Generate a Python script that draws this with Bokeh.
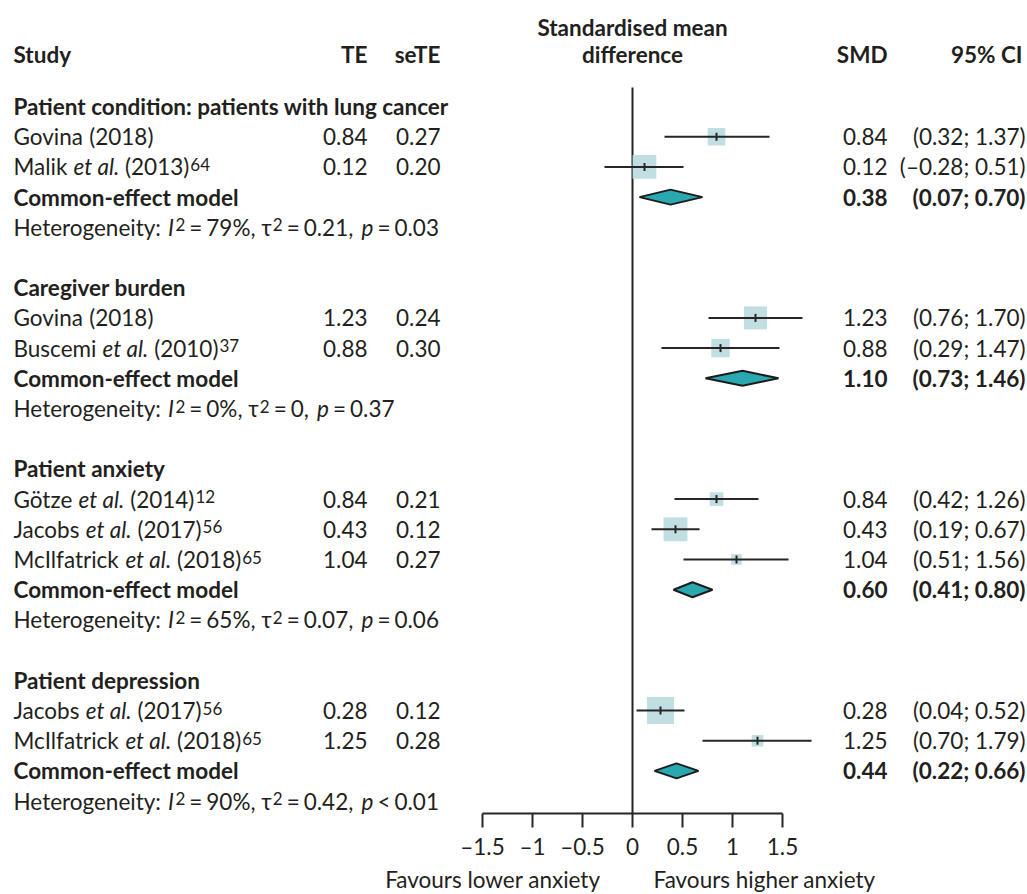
import glob, os, struct, math
from bokeh.plotting import figure
from bokeh.models import ColumnDataSource, Range1d
from bokeh.core.properties import value
from bokeh.embed import file_html
from bokeh.resources import INLINE

# ---------------- data ----------------
group_titles = ["Patient condition: patients with lung cancer", "Caregiver burden",
                "Patient anxiety", "Patient depression"]
group_n = [2, 2, 3, 2]
study_author = ["Govina", "Malik", "Govina", "Buscemi", "Götze", "Jacobs",
                "McIlfatrick", "Jacobs", "McIlfatrick"]
study_etal = [False, True, False, True, True, True, True, True, True]
study_year = ["2018", "2013", "2018", "2010", "2014", "2017", "2018", "2017", "2018"]
study_ref = ["", "64", "", "37", "12", "56", "65", "56", "65"]
te = [0.84, 0.12, 1.23, 0.88, 0.84, 0.43, 1.04, 0.28, 1.25]
se_te = [0.27, 0.20, 0.24, 0.30, 0.21, 0.12, 0.27, 0.12, 0.28]
ci_lo = [0.32, -0.28, 0.76, 0.29, 0.42, 0.19, 0.51, 0.04, 0.70]
ci_hi = [1.37, 0.51, 1.70, 1.47, 1.26, 0.67, 1.56, 0.52, 1.79]
pooled_te = [0.38, 1.10, 0.60, 0.44]
pooled_lo = [0.07, 0.73, 0.41, 0.22]
pooled_hi = [0.70, 1.46, 0.80, 0.66]
het_i2 = ["79%", "0%", "65%", "90%"]
het_tau2 = ["0.21", "0", "0.07", "0.42"]
het_p_op = ["=", "=", "=", "<"]
het_p = ["0.03", "0.37", "0.06", "0.01"]
x_ticks = [-1.5, -1.0, -0.5, 0.0, 0.5, 1.0, 1.5]
label_left = "Favours lower anxiety"
label_right = "Favours higher anxiety"
pooled_label = "Common-effect model"

# ---------------- layout ----------------
W, H = 1027, 894
ZERO_PX = 632.0
PX_PER_UNIT = 100.0
AXIS_PX = 813
ROW0_PX = 106.0
ROW_H = 30.2
FS = 22.5
SUP_FS = 17
SUP_SHIFT = -2.5    # superscript centre offset (px, negative = up)
TEXT = "#231f20"
LINE = "#262626"
SQUARE = "#c1dfe2"
DIAMOND = "#2aa8b0"
FONT = "Lato"

COL_STUDY = 13
COL_TE = 367
COL_SE = 440
COL_SMD = 887
COL_CI = 1025


def xd(px):
    return (px - ZERO_PX) / PX_PER_UNIT


def yr(px):
    return (px - ROW0_PX) / ROW_H


# ---------------- font metrics (for composing mixed-style text) ----------------
def load_ttf(path):
    try:
        data = open(path, "rb").read()
        off0 = struct.unpack(">I", data[12:16])[0] if data[:4] == b"ttcf" else 0
        num = struct.unpack(">H", data[off0 + 4:off0 + 6])[0]
        tabs = {}
        for i in range(num):
            rec = off0 + 12 + 16 * i
            tag = data[rec:rec + 4].decode("latin1")
            tabs[tag] = struct.unpack(">I", data[rec + 8:rec + 12])[0]
        upm = struct.unpack(">H", data[tabs["head"] + 18:tabs["head"] + 20])[0]
        nhm = struct.unpack(">H", data[tabs["hhea"] + 34:tabs["hhea"] + 36])[0]
        hm = tabs["hmtx"]
        adv = [struct.unpack(">H", data[hm + 4 * i:hm + 4 * i + 2])[0] for i in range(nhm)]
        cm = tabs["cmap"]
        nsub = struct.unpack(">H", data[cm + 2:cm + 4])[0]
        cmap = {}
        for i in range(nsub):
            pid, eid, so = struct.unpack(">HHI", data[cm + 4 + 8 * i:cm + 12 + 8 * i])
            sub = cm + so
            fmt = struct.unpack(">H", data[sub:sub + 2])[0]
            if fmt == 4:
                segx2 = struct.unpack(">H", data[sub + 6:sub + 8])[0]
                n = segx2 // 2
                ends = struct.unpack(">%dH" % n, data[sub + 14:sub + 14 + segx2])
                p0 = sub + 16 + segx2
                starts = struct.unpack(">%dH" % n, data[p0:p0 + segx2])
                deltas = struct.unpack(">%dh" % n, data[p0 + segx2:p0 + 2 * segx2])
                ro_pos = p0 + 2 * segx2
                ros = struct.unpack(">%dH" % n, data[ro_pos:ro_pos + segx2])
                for s in range(n):
                    for c in range(starts[s], ends[s] + 1):
                        if c == 0xFFFF or c in cmap:
                            continue
                        if ros[s] == 0:
                            g = (c + deltas[s]) & 0xFFFF
                        else:
                            a = ro_pos + 2 * s + ros[s] + 2 * (c - starts[s])
                            g = struct.unpack(">H", data[a:a + 2])[0]
                            if g:
                                g = (g + deltas[s]) & 0xFFFF
                        if g:
                            cmap[c] = g
        return {"upm": upm, "cmap": cmap, "adv": adv}
    except Exception:
        return None


def find_font(fname):
    for d in ["/usr/share/fonts", "/usr/local/share/fonts",
              os.path.expanduser("~/.fonts"), os.path.expanduser("~/.local/share/fonts")]:
        hits = glob.glob(os.path.join(d, "**", fname), recursive=True)
        if hits:
            return hits[0]
    return None


FONTS = {}
for key, fname in [("normal", "Lato-Regular.ttf"), ("italic", "Lato-Italic.ttf"),
                   ("bold", "Lato-Bold.ttf"), ("fallback", "DejaVuSans.ttf")]:
    path = find_font(fname)
    FONTS[key] = load_ttf(path) if path else None

APPROX = {" ": 0.193, ".": 0.22, ",": 0.22, ":": 0.24, ";": 0.24, "(": 0.31, ")": 0.31,
          "=": 0.58, "<": 0.58, "%": 0.8, "I": 0.28, "i": 0.24, "l": 0.24, "t": 0.35,
          "f": 0.32, "r": 0.36, "m": 0.82, "w": 0.76, "M": 0.9, "–": 0.58}


def char_w(ch, style):
    for f in (FONTS.get(style), FONTS.get("fallback")):
        if f and ord(ch) in f["cmap"]:
            g = f["cmap"][ord(ch)]
            a = f["adv"][g] if g < len(f["adv"]) else f["adv"][-1]
            return a / f["upm"]
    if ch.isdigit():
        return 0.58
    return APPROX.get(ch, 0.52)


def text_w(s, style, size):
    return sum(char_w(c, style) for c in s) * size


SPACE = text_w(" ", "normal", FS)
KINDS = {"n": ("normal", FS, 0.0), "i": ("italic", FS, 0.0), "b": ("bold", FS, 0.0),
         "s": ("normal", SUP_FS, SUP_SHIFT)}
pieces = {}


def add_piece(text, kind, x_px, row, align):
    d = pieces.setdefault((kind, align), {"x": [], "y": [], "text": []})
    d["x"].append(xd(x_px))
    d["y"].append(row)
    d["text"].append(text)


def emit(seq, x_px, row):
    cur = x_px
    for text, kind, gap in seq:
        cur += gap
        add_piece(text, kind, cur, row, "left")
        style, size, _ = KINDS[kind]
        cur += text_w(text, style, size)


def fmt(v):
    return ("–" if v < 0 else "") + "%.2f" % abs(v)


# ---------------- rows ----------------
study_rows, pooled_rows = [], []
r = 0
k = 0
EQ = 4.0
for g, title in enumerate(group_titles):
    emit([(title, "b", 0)], COL_STUDY, r)
    for j in range(group_n[g]):
        i = k + j
        row = r + 1 + j
        study_rows.append(row)
        seq = [(study_author[i], "n", 0)]
        if study_etal[i]:
            seq += [("et al.", "i", SPACE)]
        seq += [("(" + study_year[i] + ")", "n", SPACE)]
        if study_ref[i]:
            seq += [(study_ref[i], "s", 1)]
        emit(seq, COL_STUDY, row)
        add_piece(fmt(te[i]), "n", COL_TE, row, "right")
        add_piece("%.2f" % se_te[i], "n", COL_SE, row, "right")
        add_piece(fmt(te[i]), "n", COL_SMD, row, "right")
        add_piece("(%s; %s)" % (fmt(ci_lo[i]), fmt(ci_hi[i])), "n", COL_CI, row, "right")
    prow = r + 1 + group_n[g]
    pooled_rows.append(prow)
    emit([(pooled_label, "b", 0)], COL_STUDY, prow)
    add_piece(fmt(pooled_te[g]), "b", COL_SMD, prow, "right")
    add_piece("(%s; %s)" % (fmt(pooled_lo[g]), fmt(pooled_hi[g])), "b", COL_CI, prow, "right")
    hrow = prow + 1
    emit([("Heterogeneity:", "n", 0), ("I", "i", SPACE), ("2", "s", 1.5),
          ("=", "n", EQ), (het_i2[g] + ",", "n", EQ),
          ("τ", "n", SPACE), ("2", "s", 1), ("=", "n", EQ), (het_tau2[g] + ",", "n", EQ),
          ("p", "i", SPACE + 2.5), (het_p_op[g], "n", EQ), (het_p[g], "n", EQ)],
         COL_STUDY, hrow)
    k += group_n[g]
    r = hrow + 2

# weights within subgroup -> square sizes
sq_size = []
k = 0
for g in range(len(group_titles)):
    w = [1.0 / se_te[i] ** 2 for i in range(k, k + group_n[g])]
    tot = sum(w)
    sq_size += [29.5 * math.sqrt(wi / tot) for wi in w]
    k += group_n[g]

# headers
HEAD_ROW = yr(54)
HEAD2_ROW = yr(27)
add_piece("Study", "b", COL_STUDY, HEAD_ROW, "left")
add_piece("TE", "b", COL_TE, HEAD_ROW, "right")
add_piece("seTE", "b", COL_SE, HEAD_ROW, "right")
add_piece("SMD", "b", COL_SMD, HEAD_ROW, "right")
add_piece("95% CI", "b", 1022, HEAD_ROW, "right")
add_piece("Standardised mean", "b", ZERO_PX, HEAD2_ROW, "center")
add_piece("difference", "b", ZERO_PX, HEAD_ROW, "center")

# ---------------- figure ----------------
p = figure(width=W, height=H, x_range=Range1d(xd(0), xd(W)),
           y_range=Range1d(yr(H), yr(0)),
           x_axis_type=None, y_axis_type=None, toolbar_location=None,
           output_backend="svg", min_border_left=0, min_border_right=0,
           min_border_top=0, min_border_bottom=0,
           outline_line_color=None, background_fill_color="white",
           border_fill_color="white")
p.grid.visible = False

# reference line at 0
p.segment(x0=[0], y0=[yr(87)], x1=[0], y1=[yr(AXIS_PX)], line_color=LINE, line_width=2)

# squares, CI lines, point ticks
sd = ColumnDataSource(dict(te=te, lo=ci_lo, hi=ci_hi, row=study_rows, size=sq_size))
p.rect(x="te", y="row", width="size", height="size", width_units="screen",
       height_units="screen", source=sd, fill_color=SQUARE, line_color=None)
p.segment(x0="lo", y0="row", x1="hi", y1="row", source=sd, line_color=LINE, line_width=2)
p.rect(x="te", y="row", width=2, height=8, width_units="screen", height_units="screen",
       source=sd, fill_color=LINE, line_color=None)

# diamonds
dh = 7.5 / ROW_H
xs = [[lo, m, hi, m] for lo, m, hi in zip(pooled_lo, pooled_te, pooled_hi)]
ys = [[rw, rw - dh, rw, rw + dh] for rw in pooled_rows]
p.patches(xs=xs, ys=ys, fill_color=DIAMOND, line_color="#1c1c1c", line_width=2)

# texts
for (kind, align), d in pieces.items():
    style, size, shift = KINDS[kind]
    p.text(x="x", y="y", text="text", source=ColumnDataSource(d),
           text_font=value(FONT), text_font_style=style,
           text_font_size=value("%gpx" % size), text_color=TEXT,
           text_align=align, text_baseline="middle", y_offset=shift)

# x axis (drawn on the data scale)
ay = yr(AXIS_PX)
p.segment(x0=[x_ticks[0]], y0=[ay], x1=[x_ticks[-1]], y1=[ay], line_color=LINE, line_width=2)
p.segment(x0=x_ticks, y0=[ay] * len(x_ticks), x1=x_ticks, y1=[yr(AXIS_PX + 14)] * len(x_ticks),
          line_color=LINE, line_width=2)
tick_labels = [("–" if t < 0 else "") + ("%g" % abs(t)) for t in x_ticks]
p.text(x=x_ticks, y=[yr(846)] * len(x_ticks), text=tick_labels,
       text_font=value(FONT), text_font_size=value("%gpx" % FS), text_color=TEXT,
       text_align="center", text_baseline="middle")
p.text(x=[xd(600)], y=[yr(879)], text=[label_left], text_font=value(FONT),
       text_font_size=value("%gpx" % FS), text_color=TEXT,
       text_align="right", text_baseline="middle")
p.text(x=[xd(653)], y=[yr(879)], text=[label_right], text_font=value(FONT),
       text_font_size=value("%gpx" % FS), text_color=TEXT,
       text_align="left", text_baseline="middle")

open("out.html", "w").write(file_html(p, INLINE))
